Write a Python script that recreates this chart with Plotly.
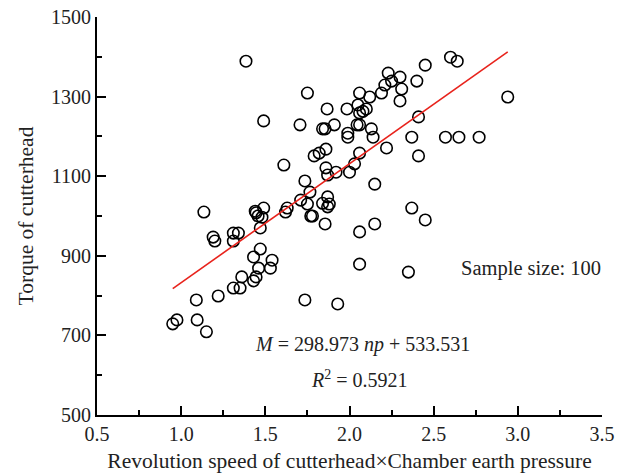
import plotly.graph_objects as go

x_vals = [0.95, 0.975, 1.095, 1.09, 1.15, 1.22, 1.135, 1.19, 1.20, 1.31,
          1.34, 1.31, 1.31, 1.35, 1.36, 1.43, 1.445, 1.43, 1.46, 1.47,
          1.47, 1.445, 1.457, 1.49, 1.48, 1.53, 1.54, 1.385, 1.49, 1.61,
          1.62, 1.63, 1.706, 1.71, 1.735, 1.735, 1.75, 1.75, 1.765, 1.77,
          1.78, 1.79, 1.82, 1.84, 1.855, 1.84, 1.855, 1.86, 1.86, 1.867,
          1.87, 1.87, 1.87, 1.91, 1.92, 1.93, 1.985, 1.99, 1.99, 2.0,
          2.03, 2.045, 2.06, 2.06, 2.05, 2.06, 2.06, 2.06, 2.06, 2.10,
          2.12, 2.13, 2.14, 2.15, 2.15, 2.19, 2.21, 2.22, 2.23, 2.25,
          2.30, 2.31, 2.30, 2.35, 2.37, 2.37, 2.40, 2.41, 2.41, 2.45,
          2.45, 2.57, 2.60, 2.64, 2.65, 2.77, 2.94, 1.44, 2.08, 1.88]
y_vals = [729, 739, 739, 789, 709, 799, 1010, 947, 937, 957,
          957, 937, 819, 819, 847, 837, 847, 897, 869, 917,
          970, 1008, 1000, 1020, 997, 869, 889, 1389, 1239, 1128,
          1010, 1020, 1229, 1040, 1088, 789, 1309, 1030, 1060, 1000,
          1000, 1151, 1158, 1219, 1219, 1032, 980, 1168, 1121, 1269,
          1103, 1048, 1023, 1229, 1110, 779, 1269, 1208, 1198, 1110,
          1131, 1229, 1229, 1309, 1279, 1259, 1158, 960, 879, 1269,
          1299, 1219, 1198, 1080, 980, 1309, 1329, 1171, 1359, 1339,
          1349, 1319, 1289, 859, 1198, 1020, 1339, 1249, 1151, 1379,
          990, 1198, 1399, 1389, 1198, 1198, 1299, 1012, 1263, 1030]

slope = 298.973
intercept = 533.531
fit_x = [0.95, 2.94]
fit_y = [slope * v + intercept for v in fit_x]

FONT = "Liberation Serif"
TXT = "#222222"

fig = go.Figure()
fig.add_trace(go.Scatter(
    x=x_vals, y=y_vals, mode="markers",
    marker=dict(symbol="circle-open", size=11.5, color="black",
                line=dict(width=1.6, color="black")),
    showlegend=False, hoverinfo="skip"))
fig.add_trace(go.Scatter(
    x=fit_x, y=fit_y, mode="lines",
    line=dict(color="#e8231c", width=1.6), showlegend=False))

axis_common = dict(
    showgrid=False, zeroline=False, showline=True, linecolor="black",
    linewidth=1.8, ticks="inside", ticklen=9, tickwidth=1.8,
    tickcolor="black", tickfont=dict(family=FONT, size=20, color=TXT),
    automargin=False,
)

fig.update_xaxes(
    range=[0.5, 3.5], tick0=0.5, dtick=0.5, tickformat=".1f",
    minor=dict(ticks="inside", ticklen=5, tickwidth=1.5, dtick=0.25,
               tick0=0.5, tickcolor="black"),
    title=dict(text="Revolution speed of cutterhead×Chamber earth pressure",
               font=dict(family=FONT, size=21.5, color=TXT), standoff=9),
    **axis_common)
fig.update_yaxes(
    range=[500, 1500], tick0=500, dtick=200,
    minor=dict(ticks="inside", ticklen=5, tickwidth=1.5, dtick=100,
               tick0=500, tickcolor="black"),
    title=dict(text="Torque of cutterhead",
               font=dict(family=FONT, size=21.5, color=TXT), standoff=12),
    **axis_common)

fig.add_annotation(x=2.08, y=676, xref="x", yref="y", showarrow=False,
                   text="<i>M</i> = 298.973 <i>np</i> + 533.531",
                   font=dict(family=FONT, size=20, color=TXT))
fig.add_annotation(x=2.06, y=590, xref="x", yref="y", showarrow=False,
                   text="<i>R</i><sup>2</sup> = 0.5921",
                   font=dict(family=FONT, size=20, color=TXT))
fig.add_annotation(x=3.08, y=869, xref="x", yref="y", showarrow=False,
                   text="Sample size: 100",
                   font=dict(family=FONT, size=20.5, color=TXT))

fig.update_layout(
    width=624, height=474,
    margin=dict(l=97, r=22, t=17, b=59),
    plot_bgcolor="white", paper_bgcolor="white",
)

fig.write_html("out.html")
